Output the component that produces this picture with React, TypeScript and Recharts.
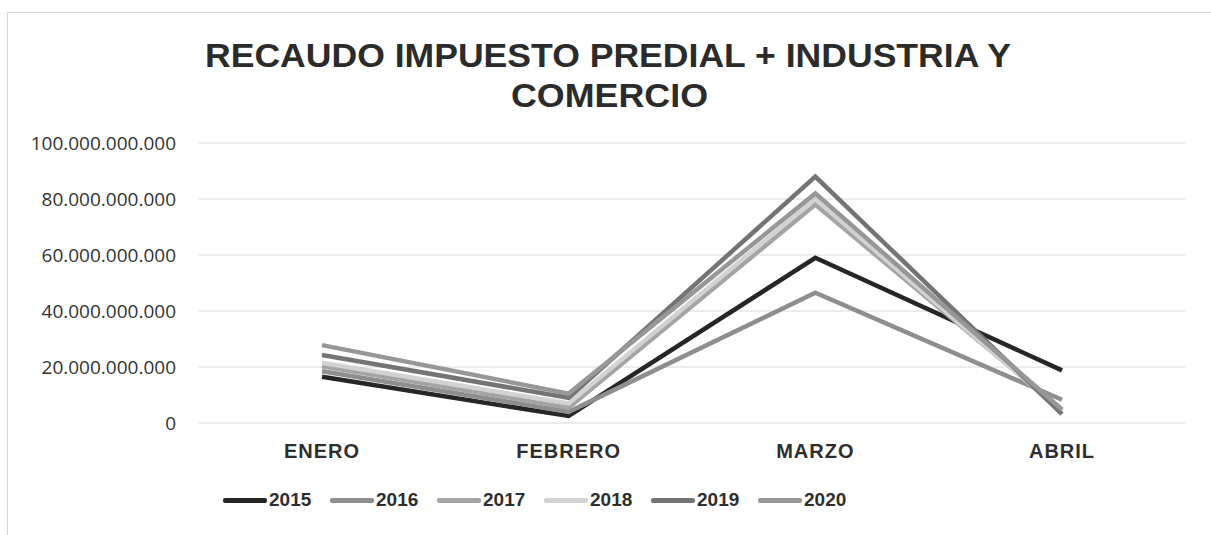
import React from 'react'
import { LineChart, Line, XAxis, YAxis, CartesianGrid } from 'recharts'

const months = ['ENERO', 'FEBRERO', 'MARZO', 'ABRIL']
const years = ['2015', '2016', '2017', '2018', '2019', '2020']

// values (pesos)
const v2015 = [16.5e9, 2.5e9, 59e9, 18.8e9]
const v2016 = [18.5e9, 4e9, 46.5e9, 8.3e9]
const v2017 = [20.3e9, 5.5e9, 78e9, 4.5e9]
const v2018 = [21.5e9, 7e9, 80e9, 4e9]
const v2019 = [24.3e9, 9e9, 88e9, 3.2e9]
const v2020 = [27.8e9, 10.5e9, 82e9, 4.8e9]
const yTicks = [0, 20e9, 40e9, 60e9, 80e9, 100e9]

const series = [v2015, v2016, v2017, v2018, v2019, v2020]
const colors = ['#262626', '#8e8e8e', '#a4a4a4', '#d2d2d2', '#747474', '#979797']

const data = months.map((m, i) => {
  const row: any = { month: m }
  years.forEach((y, j) => {
    row[y] = series[j][i]
  })
  return row
})

const fmt = (n: number) => String(n).replace(/\B(?=(\d{3})+(?!\d))/g, '.')

export default function App() {
  return (
    <div style={{ position: 'absolute', left: 0, top: 0, width: 1211, height: 535, background: '#fff', overflow: 'hidden' }}>
      <div style={{ position: 'absolute', left: 7, top: 12, width: 1203, height: 540, border: '1px solid #d6d6d6' }} />
      <svg width={1211} height={130} style={{ position: 'absolute', left: 0, top: 0 }}>
        <text x={205} y={67} fontFamily="'Liberation Sans', Arial, sans-serif" fontWeight="bold" fontSize={34}
          fill="#2b2b2b" textLength={806} lengthAdjust="spacingAndGlyphs">
          RECAUDO IMPUESTO PREDIAL + INDUSTRIA Y
        </text>
        <text x={511} y={107} fontFamily="'Liberation Sans', Arial, sans-serif" fontWeight="bold" fontSize={34}
          fill="#2b2b2b" textLength={197} lengthAdjust="spacingAndGlyphs">
          COMERCIO
        </text>
      </svg>
      <div style={{ position: 'absolute', left: 0, top: 0 }}>
        <LineChart width={1211} height={535} data={data} margin={{ top: 143, right: 26, bottom: 82, left: 0 }}>
          <CartesianGrid vertical={false} stroke="#d9d9d9" />
          <XAxis
            dataKey="month"
            axisLine={false}
            tickLine={false}
            tickSize={0}
            tickMargin={21}
            height={30}
            padding={{ left: 123, right: 123 }}
            tick={{ fill: '#2e2e2e', fontSize: 20, fontWeight: 'bold', fontFamily: "'Liberation Sans', Arial, sans-serif", letterSpacing: 1 }}
          />
          <YAxis
            width={199}
            domain={[0, 100e9]}
            ticks={yTicks}
            axisLine={false}
            tickLine={false}
            tickSize={0}
            tickMargin={23}
            tickFormatter={fmt}
            tick={{ fill: '#333333', fontSize: 19, fontFamily: "'Open Sans', sans-serif" }}
          />
          {years.map((y, j) => (
            <Line
              key={y}
              dataKey={y}
              stroke={colors[j]}
              strokeWidth={4.5}
              dot={false}
              isAnimationActive={false}
            />
          ))}
        </LineChart>
      </div>
      <div style={{ position: 'absolute', left: 223, top: 489, display: 'flex', fontFamily: "'Liberation Sans', Arial, sans-serif", fontWeight: 'bold', fontSize: 19, color: '#2e2e2e' }}>
        {years.map((y, j) => (
          <div key={y} style={{ display: 'flex', alignItems: 'center', width: 107 }}>
            <div style={{ width: 44, height: 5, borderRadius: 2, background: colors[j] }} />
            <span style={{ marginLeft: 2 }}>{y}</span>
          </div>
        ))}
      </div>
    </div>
  )
}
